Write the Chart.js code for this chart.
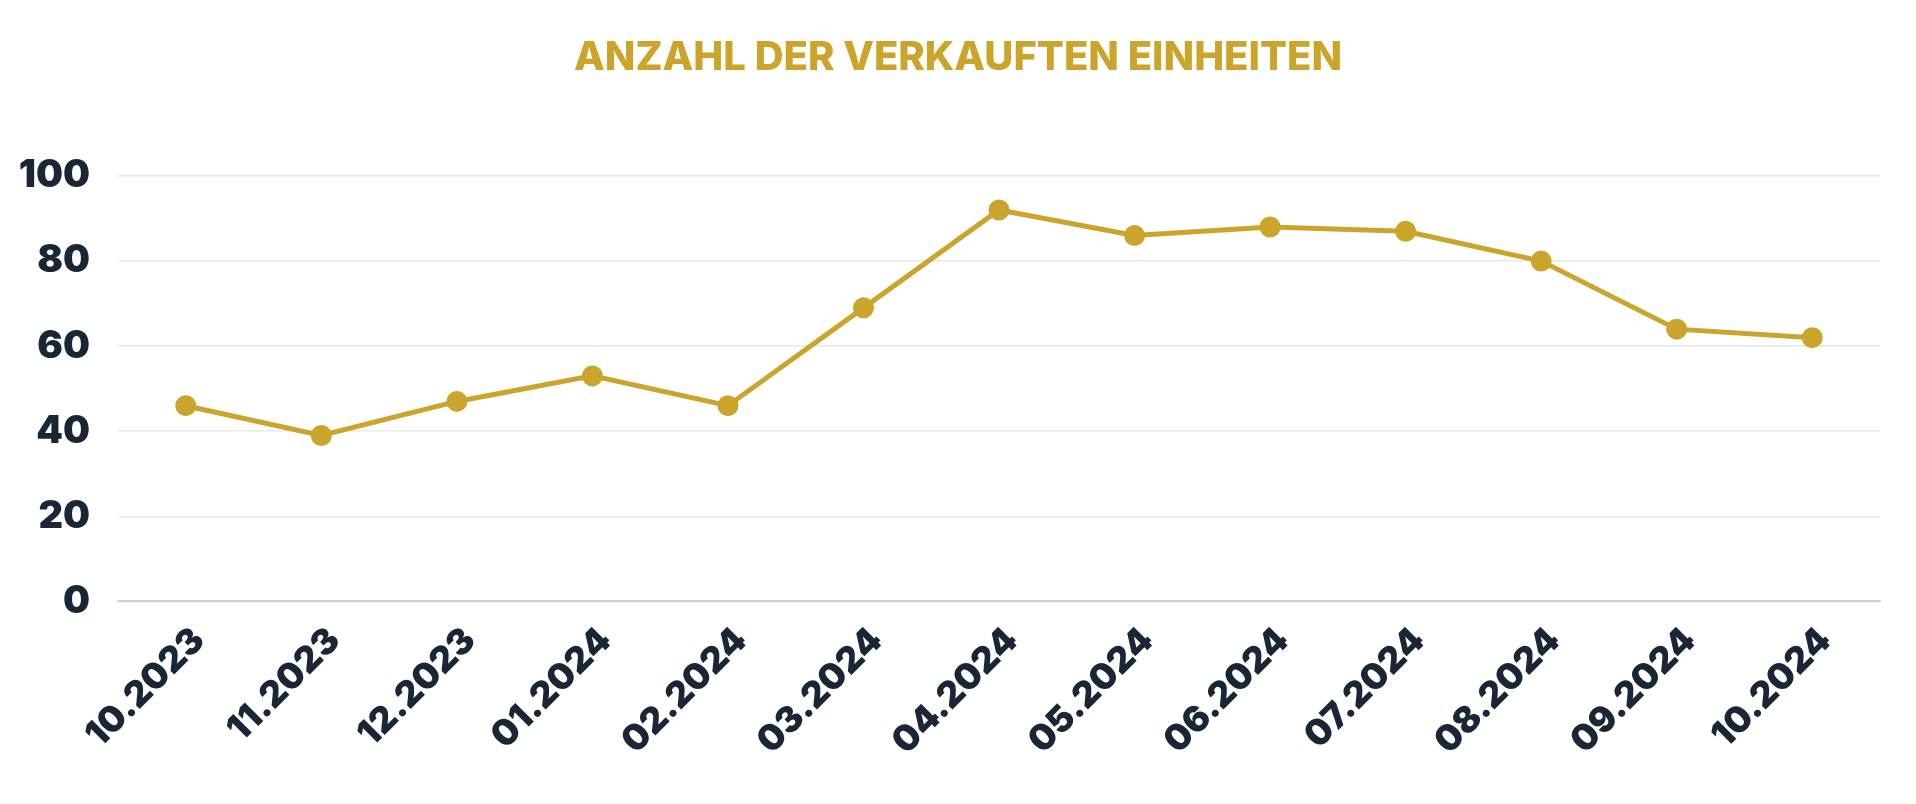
<!DOCTYPE html>
<html>
<head>
<meta charset="utf-8">
<script src="https://cdn.jsdelivr.net/npm/chart.js@4"></script>
<style>
  html, body { margin: 0; padding: 0; background: #fff; }
  #wrap { width: 1916px; height: 804px; }
</style>
</head>
<body>
<div id="wrap"><canvas id="lineChart"></canvas></div>
<script>
const months = ['10.2023', '11.2023', '12.2023', '01.2024', '02.2024', '03.2024', '04.2024',
                '05.2024', '06.2024', '07.2024', '08.2024', '09.2024', '10.2024'];
const unitsSold = [46, 39, 47, 53, 46, 69, 92, 86, 88, 87, 80, 64, 62];
const yTicks = [0, 20, 40, 60, 80, 100];

const gold = '#CBA42B';
const navy = '#182635';

document.addEventListener("DOMContentLoaded", () => {
    const ctx = document.getElementById("lineChart").getContext("2d");

    new Chart(ctx, {
        type: 'line',
        data: {
            labels: months,
            datasets: [{
                label: 'Anzahl der verkauften Einheiten',
                data: unitsSold,
                borderColor: gold,
                backgroundColor: gold,
                borderWidth: 5,
                pointRadius: 10.5,
                pointHoverRadius: 11,
                pointBorderWidth: 0,
                tension: 0
            }]
        },
        options: {
            responsive: true,
            maintainAspectRatio: false,
            animation: false,
            layout: { padding: { left: 0, right: 0, bottom: 23, top: 0 } },
            plugins: {
                legend: { display: false },
                tooltip: { enabled: false },
                title: {
                    display: true,
                    text: 'ANZAHL DER VERKAUFTEN EINHEITEN',
                    color: gold,
                    font: { family: 'Inter', size: 40, weight: '800' },
                    padding: { top: 34, bottom: 94 }
                }
            },
            scales: {
                x: {
                    offset: true,
                    grid: { display: false, drawTicks: false },
                    border: { display: true, color: '#d0d0d0', width: 2 },
                    ticks: {
                        color: navy,
                        font: { family: 'Inter', size: 36, weight: '900' },
                        maxRotation: 45,
                        minRotation: 45,
                        padding: 18,
                        labelOffset: 13,
                        autoSkip: false
                    }
                },
                y: {
                    min: 0,
                    max: 100,
                    afterBuildTicks: axis => { axis.ticks = yTicks.map(v => ({ value: v })); },
                    afterFit: axis => { axis.width = 118; },
                    grid: { color: '#e8e8e8', lineWidth: 1.5, drawTicks: false },
                    border: { display: false },
                    ticks: {
                        color: navy,
                        font: { family: 'Inter', size: 38, weight: '900' },
                        padding: 28
                    }
                },
                // empty right-hand axis, only to keep a gap right of the plot
                yRight: {
                    position: 'right',
                    display: true,
                    afterFit: axis => { axis.width = 36; },
                    grid: { display: false },
                    border: { display: false },
                    ticks: { display: false }
                }
            }
        }
    });
});
</script>
</body>
</html>
